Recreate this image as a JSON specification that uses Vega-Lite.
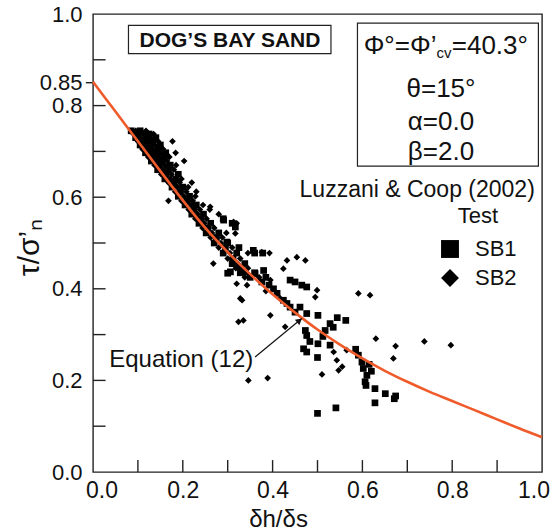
{
  "$schema": "https://vega.github.io/schema/vega-lite/v6.json",
  "width": 449,
  "height": 458,
  "autosize": {"type": "none"},
  "padding": {"left": 93, "top": 14, "right": 16, "bottom": 58},
  "background": "white",
  "config": {"view": {"stroke": "#222", "strokeWidth": 1.4}, "font": "Liberation Sans"},
  "datasets": {
    "pts": [
      {"x":0.085,"y":0.745,"t":"SB1"},{"x":0.095,"y":0.745,"t":"SB2"},{"x":0.105,"y":0.745,"t":"SB1"},{"x":0.118,"y":0.745,"t":"SB2"},
      {"x":0.09,"y":0.738,"t":"SB2"},{"x":0.10,"y":0.738,"t":"SB1"},{"x":0.112,"y":0.738,"t":"SB2"},{"x":0.125,"y":0.738,"t":"SB1"},{"x":0.135,"y":0.738,"t":"SB2"},
      {"x":0.095,"y":0.730,"t":"SB1"},{"x":0.106,"y":0.730,"t":"SB2"},{"x":0.118,"y":0.730,"t":"SB1"},{"x":0.128,"y":0.730,"t":"SB2"},{"x":0.14,"y":0.730,"t":"SB1"},
      {"x":0.10,"y":0.722,"t":"SB2"},{"x":0.112,"y":0.722,"t":"SB1"},{"x":0.122,"y":0.722,"t":"SB2"},{"x":0.133,"y":0.722,"t":"SB1"},{"x":0.145,"y":0.722,"t":"SB2"},{"x":0.177,"y":0.722,"t":"SB2"},
      {"x":0.105,"y":0.714,"t":"SB1"},{"x":0.116,"y":0.714,"t":"SB2"},{"x":0.127,"y":0.714,"t":"SB1"},{"x":0.138,"y":0.714,"t":"SB2"},{"x":0.15,"y":0.714,"t":"SB1"},
      {"x":0.11,"y":0.705,"t":"SB2"},{"x":0.122,"y":0.705,"t":"SB1"},{"x":0.133,"y":0.705,"t":"SB2"},{"x":0.145,"y":0.705,"t":"SB1"},{"x":0.156,"y":0.705,"t":"SB2"},
      {"x":0.117,"y":0.697,"t":"SB1"},{"x":0.128,"y":0.697,"t":"SB2"},{"x":0.14,"y":0.697,"t":"SB1"},{"x":0.15,"y":0.697,"t":"SB2"},{"x":0.162,"y":0.697,"t":"SB1"},{"x":0.184,"y":0.697,"t":"SB2"},
      {"x":0.123,"y":0.688,"t":"SB2"},{"x":0.134,"y":0.688,"t":"SB1"},{"x":0.146,"y":0.688,"t":"SB2"},{"x":0.158,"y":0.688,"t":"SB1"},{"x":0.17,"y":0.688,"t":"SB2"},
      {"x":0.13,"y":0.679,"t":"SB1"},{"x":0.142,"y":0.679,"t":"SB2"},{"x":0.153,"y":0.679,"t":"SB1"},{"x":0.165,"y":0.679,"t":"SB2"},{"x":0.203,"y":0.679,"t":"SB2"},
      {"x":0.137,"y":0.670,"t":"SB2"},{"x":0.148,"y":0.670,"t":"SB1"},{"x":0.16,"y":0.670,"t":"SB2"},{"x":0.172,"y":0.670,"t":"SB1"},{"x":0.185,"y":0.670,"t":"SB2"},
      {"x":0.144,"y":0.660,"t":"SB1"},{"x":0.156,"y":0.660,"t":"SB2"},{"x":0.168,"y":0.660,"t":"SB1"},{"x":0.18,"y":0.660,"t":"SB2"},
      {"x":0.152,"y":0.650,"t":"SB2"},{"x":0.163,"y":0.650,"t":"SB1"},{"x":0.175,"y":0.650,"t":"SB2"},{"x":0.19,"y":0.650,"t":"SB1"},
      {"x":0.16,"y":0.640,"t":"SB1"},{"x":0.172,"y":0.640,"t":"SB2"},{"x":0.184,"y":0.640,"t":"SB1"},{"x":0.197,"y":0.640,"t":"SB2"},
      {"x":0.168,"y":0.632,"t":"SB2"},{"x":0.18,"y":0.632,"t":"SB1"},{"x":0.193,"y":0.632,"t":"SB2"},{"x":0.22,"y":0.632,"t":"SB2"},
      {"x":0.176,"y":0.622,"t":"SB1"},{"x":0.188,"y":0.622,"t":"SB2"},{"x":0.2,"y":0.622,"t":"SB1"},{"x":0.212,"y":0.622,"t":"SB2"},
      {"x":0.183,"y":0.612,"t":"SB2"},{"x":0.195,"y":0.612,"t":"SB1"},{"x":0.208,"y":0.612,"t":"SB2"},{"x":0.23,"y":0.612,"t":"SB2"},
      {"x":0.19,"y":0.602,"t":"SB1"},{"x":0.203,"y":0.602,"t":"SB2"},{"x":0.215,"y":0.602,"t":"SB1"},{"x":0.228,"y":0.602,"t":"SB2"},
      {"x":0.197,"y":0.592,"t":"SB2"},{"x":0.21,"y":0.592,"t":"SB1"},{"x":0.222,"y":0.592,"t":"SB2"},{"x":0.168,"y":0.592,"t":"SB2"},
      {"x":0.205,"y":0.583,"t":"SB1"},{"x":0.218,"y":0.583,"t":"SB2"},{"x":0.23,"y":0.583,"t":"SB1"},{"x":0.245,"y":0.583,"t":"SB2"},
      {"x":0.213,"y":0.573,"t":"SB2"},{"x":0.225,"y":0.573,"t":"SB1"},{"x":0.238,"y":0.573,"t":"SB2"},{"x":0.26,"y":0.573,"t":"SB2"},
      {"x":0.22,"y":0.563,"t":"SB1"},{"x":0.233,"y":0.563,"t":"SB2"},{"x":0.246,"y":0.563,"t":"SB1"},{"x":0.28,"y":0.563,"t":"SB2"},
      {"x":0.228,"y":0.553,"t":"SB2"},{"x":0.24,"y":0.553,"t":"SB1"},{"x":0.253,"y":0.553,"t":"SB2"},{"x":0.29,"y":0.553,"t":"SB1"},
      {"x":0.236,"y":0.543,"t":"SB1"},{"x":0.248,"y":0.543,"t":"SB2"},{"x":0.262,"y":0.543,"t":"SB1"},{"x":0.31,"y":0.543,"t":"SB1"},{"x":0.32,"y":0.543,"t":"SB2"},
      {"x":0.244,"y":0.533,"t":"SB2"},{"x":0.256,"y":0.533,"t":"SB1"},{"x":0.27,"y":0.533,"t":"SB2"},
      {"x":0.252,"y":0.522,"t":"SB1"},{"x":0.265,"y":0.522,"t":"SB2"},{"x":0.28,"y":0.522,"t":"SB1"},{"x":0.297,"y":0.522,"t":"SB2"},
      {"x":0.262,"y":0.512,"t":"SB2"},{"x":0.275,"y":0.512,"t":"SB1"},{"x":0.288,"y":0.512,"t":"SB2"},
      {"x":0.27,"y":0.500,"t":"SB1"},{"x":0.285,"y":0.500,"t":"SB2"},{"x":0.3,"y":0.500,"t":"SB1"},
      {"x":0.28,"y":0.490,"t":"SB2"},{"x":0.295,"y":0.490,"t":"SB1"},{"x":0.31,"y":0.490,"t":"SB2"},{"x":0.325,"y":0.490,"t":"SB1"},
      {"x":0.29,"y":0.478,"t":"SB1"},{"x":0.305,"y":0.478,"t":"SB2"},{"x":0.32,"y":0.478,"t":"SB1"},{"x":0.345,"y":0.478,"t":"SB2"},{"x":0.36,"y":0.478,"t":"SB1"},{"x":0.378,"y":0.478,"t":"SB1"},{"x":0.393,"y":0.478,"t":"SB2"},
      {"x":0.3,"y":0.466,"t":"SB2"},{"x":0.312,"y":0.466,"t":"SB1"},{"x":0.328,"y":0.466,"t":"SB2"},
      {"x":0.31,"y":0.455,"t":"SB1"},{"x":0.322,"y":0.455,"t":"SB2"},{"x":0.338,"y":0.455,"t":"SB1"},{"x":0.268,"y":0.455,"t":"SB2"},
      {"x":0.318,"y":0.445,"t":"SB2"},{"x":0.33,"y":0.445,"t":"SB1"},{"x":0.345,"y":0.445,"t":"SB2"},
      {"x":0.328,"y":0.435,"t":"SB1"},{"x":0.34,"y":0.435,"t":"SB2"},{"x":0.36,"y":0.435,"t":"SB1"},
      {"x":0.338,"y":0.425,"t":"SB2"},{"x":0.35,"y":0.425,"t":"SB1"},{"x":0.37,"y":0.425,"t":"SB2"},{"x":0.385,"y":0.425,"t":"SB1"},
      {"x":0.261,"y":0.579,"t":"SB2"},{"x":0.291,"y":0.550,"t":"SB1"},{"x":0.313,"y":0.546,"t":"SB2"},{"x":0.317,"y":0.535,"t":"SB1"},
      {"x":0.298,"y":0.502,"t":"SB1"},{"x":0.317,"y":0.521,"t":"SB2"},{"x":0.357,"y":0.484,"t":"SB1"},{"x":0.376,"y":0.480,"t":"SB2"},
      {"x":0.306,"y":0.437,"t":"SB1"},{"x":0.324,"y":0.448,"t":"SB2"},{"x":0.335,"y":0.437,"t":"SB1"},{"x":0.320,"y":0.411,"t":"SB2"},
      {"x":0.328,"y":0.379,"t":"SB2"},{"x":0.454,"y":0.469,"t":"SB2"},{"x":0.432,"y":0.462,"t":"SB2"},{"x":0.473,"y":0.462,"t":"SB2"},
      {"x":0.424,"y":0.444,"t":"SB2"},{"x":0.380,"y":0.440,"t":"SB1"},{"x":0.361,"y":0.433,"t":"SB1"},{"x":0.376,"y":0.415,"t":"SB1"},
      {"x":0.395,"y":0.419,"t":"SB2"},{"x":0.402,"y":0.400,"t":"SB1"},{"x":0.410,"y":0.390,"t":"SB1"},{"x":0.417,"y":0.379,"t":"SB2"},
      {"x":0.424,"y":0.375,"t":"SB1"},{"x":0.432,"y":0.368,"t":"SB1"},{"x":0.439,"y":0.360,"t":"SB1"},{"x":0.439,"y":0.419,"t":"SB1"},
      {"x":0.450,"y":0.415,"t":"SB1"},{"x":0.465,"y":0.408,"t":"SB1"},{"x":0.476,"y":0.404,"t":"SB1"},{"x":0.499,"y":0.397,"t":"SB2"},
      {"x":0.495,"y":0.382,"t":"SB2"},{"x":0.395,"y":0.342,"t":"SB2"},{"x":0.476,"y":0.346,"t":"SB1"},{"x":0.461,"y":0.360,"t":"SB1"},
      {"x":0.450,"y":0.349,"t":"SB1"},{"x":0.385,"y":0.395,"t":"SB2"},{"x":0.392,"y":0.408,"t":"SB1"},{"x":0.3,"y":0.434,"t":"SB1"},
      {"x":0.343,"y":0.408,"t":"SB2"},{"x":0.332,"y":0.375,"t":"SB2"},{"x":0.324,"y":0.328,"t":"SB2"},{"x":0.335,"y":0.331,"t":"SB2"},
      {"x":0.428,"y":0.317,"t":"SB2"},{"x":0.346,"y":0.200,"t":"SB2"},{"x":0.389,"y":0.205,"t":"SB2"},
      {"x":0.591,"y":0.390,"t":"SB2"},{"x":0.617,"y":0.386,"t":"SB2"},{"x":0.630,"y":0.291,"t":"SB2"},{"x":0.674,"y":0.275,"t":"SB2"},
      {"x":0.669,"y":0.248,"t":"SB2"},{"x":0.738,"y":0.285,"t":"SB2"},{"x":0.510,"y":0.213,"t":"SB2"},{"x":0.797,"y":0.277,"t":"SB2"},
      {"x":0.501,"y":0.342,"t":"SB1"},{"x":0.544,"y":0.337,"t":"SB1"},{"x":0.563,"y":0.331,"t":"SB1"},{"x":0.528,"y":0.324,"t":"SB1"},
      {"x":0.517,"y":0.309,"t":"SB1"},{"x":0.473,"y":0.309,"t":"SB1"},{"x":0.476,"y":0.298,"t":"SB1"},{"x":0.469,"y":0.269,"t":"SB1"},
      {"x":0.476,"y":0.262,"t":"SB1"},{"x":0.501,"y":0.280,"t":"SB1"},{"x":0.500,"y":0.250,"t":"SB1"},{"x":0.528,"y":0.277,"t":"SB1"},
      {"x":0.536,"y":0.262,"t":"SB2"},{"x":0.543,"y":0.244,"t":"SB2"},{"x":0.547,"y":0.222,"t":"SB2"},{"x":0.565,"y":0.266,"t":"SB2"},
      {"x":0.591,"y":0.255,"t":"SB1"},{"x":0.599,"y":0.240,"t":"SB1"},{"x":0.602,"y":0.226,"t":"SB1"},{"x":0.610,"y":0.211,"t":"SB1"},
      {"x":0.606,"y":0.197,"t":"SB1"},{"x":0.608,"y":0.189,"t":"SB1"},{"x":0.628,"y":0.182,"t":"SB1"},{"x":0.628,"y":0.151,"t":"SB1"},
      {"x":0.651,"y":0.171,"t":"SB1"},{"x":0.671,"y":0.160,"t":"SB1"},{"x":0.500,"y":0.128,"t":"SB1"},{"x":0.541,"y":0.140,"t":"SB1"},
      {"x":0.615,"y":0.235,"t":"SB1"},{"x":0.620,"y":0.220,"t":"SB1"},{"x":0.674,"y":0.166,"t":"SB1"},{"x":0.585,"y":0.268,"t":"SB1"},
      {"x":0.555,"y":0.230,"t":"SB2"},{"x":0.483,"y":0.285,"t":"SB1"},{"x":0.512,"y":0.296,"t":"SB1"},{"x":0.535,"y":0.316,"t":"SB1"}
    ],
    "curve": [
      {"x":0,"y":0.852},{"x":0.05,"y":0.787},{"x":0.1,"y":0.722},{"x":0.15,"y":0.657},{"x":0.2,"y":0.593},
      {"x":0.25,"y":0.533},{"x":0.3,"y":0.48},{"x":0.35,"y":0.432},{"x":0.4,"y":0.388},{"x":0.45,"y":0.348},
      {"x":0.5,"y":0.311},{"x":0.55,"y":0.278},{"x":0.6,"y":0.248},{"x":0.65,"y":0.221},{"x":0.7,"y":0.197},
      {"x":0.75,"y":0.175},{"x":0.8,"y":0.155},{"x":0.85,"y":0.135},{"x":0.9,"y":0.115},{"x":0.95,"y":0.095},{"x":1.0,"y":0.076}
    ],
    "xticks": [
      {"x":0.1,"y":0,"y2":0.026},{"x":0.2,"y":0,"y2":0.026},{"x":0.3,"y":0,"y2":0.026},{"x":0.4,"y":0,"y2":0.026},{"x":0.5,"y":0,"y2":0.026},
      {"x":0.6,"y":0,"y2":0.026},{"x":0.7,"y":0,"y2":0.026},{"x":0.8,"y":0,"y2":0.026},{"x":0.9,"y":0,"y2":0.026}
    ],
    "yticks": [
      {"y":0.1,"x":0,"x2":0.028},{"y":0.2,"x":0,"x2":0.028},{"y":0.3,"x":0,"x2":0.028},{"y":0.4,"x":0,"x2":0.028},{"y":0.5,"x":0,"x2":0.028},
      {"y":0.6,"x":0,"x2":0.028},{"y":0.7,"x":0,"x2":0.028},{"y":0.8,"x":0,"x2":0.028},{"y":0.9,"x":0,"x2":0.028}
    ],
    "outtick": [{"x":-0.016,"x2":0,"y":0.85}],
    "boxes": [
      {"x":0.079,"x2":0.530,"y":0.975,"y2":0.9135},
      {"x":0.589,"x2":0.992,"y":0.980,"y2":0.668}
    ],
    "heading": [{"x":0.305,"y":0.928,"text":"DOG’S BAY SAND"}],
    "params": [
      {"x":0.775,"y":0.819,"text":"θ=15°"},
      {"x":0.775,"y":0.746,"text":"α=0.0"},
      {"x":0.775,"y":0.681,"text":"β=2.0"}
    ],
    "phiA": [{"x":0.765,"y":0.9135,"text":"Φ°=Φ’"}],
    "phiB": [{"x":0.765,"y":0.905,"text":"cv"}],
    "phiC": [{"x":0.799,"y":0.9135,"text":"=40.3°"}],
    "source": [{"x":0.984,"y":0.600,"text":"Luzzani & Coop (2002)"}],
    "eqn": [{"x":0.357,"y":0.229,"text":"Equation (12)"}],
    "arrow": [{"x":0.361,"y":0.251,"x2":0.465,"y2":0.335}],
    "arrowhead": [{"x":0.4599,"y":0.3308}]
  },
  "encoding": {
    "x": {
      "field": "x", "type": "quantitative",
      "scale": {"domain": [0, 1], "nice": false, "zero": false},
      "axis": {
        "title": "δh/δs", "titleFontSize": 24, "titleFontWeight": "normal", "titleColor": "#111",
        "titleX": 185, "titleY": 54, "titleAlign": "center", "titleBaseline": "alphabetic",
        "values": [0, 0.2, 0.4, 0.6, 0.8, 1],
        "ticks": false, "tickSize": 0, "domain": false, "grid": false,
        "format": ".1f",
        "labelFontSize": 23, "labelColor": "#111", "labelPadding": 7,
        "labelFlush": true, "labelFlushOffset": 7.5, "labelOverlap": false, "labelBound": false
      }
    },
    "y": {
      "field": "y", "type": "quantitative",
      "scale": {"domain": [0, 1], "nice": false, "zero": false},
      "axis": {
        "title": "τ/σ’ₙ", "titleFontSize": 30, "titleFontWeight": "normal", "titleColor": "#111",
        "titleX": -64, "titleY": 233, "titleAlign": "center", "titleBaseline": "middle", "titleAngle": -90,
        "values": [0, 0.2, 0.4, 0.6, 0.8, 0.85, 1],
        "ticks": false, "tickSize": 0, "domain": false, "grid": false,
        "labelExpr": "datum.value == 0.85 ? '0.85' : format(datum.value, '.1f')",
        "labelFontSize": 22, "labelColor": "#111", "labelPadding": 11,
        "labelFlush": false, "labelOverlap": false, "labelBound": false
      }
    }
  },
  "layer": [
    {
      "data": {"name": "boxes"},
      "mark": {"type": "rect", "fill": "white", "stroke": "#222", "strokeWidth": 1.2},
      "encoding": {"x2": {"field": "x2"}, "y2": {"field": "y2"}}
    },
    {
      "data": {"name": "xticks"},
      "mark": {"type": "rule", "color": "#222", "strokeWidth": 1.4},
      "encoding": {"y2": {"field": "y2"}}
    },
    {
      "data": {"name": "yticks"},
      "mark": {"type": "rule", "color": "#222", "strokeWidth": 1.4},
      "encoding": {"x2": {"field": "x2"}}
    },
    {
      "data": {"name": "outtick"},
      "mark": {"type": "rule", "color": "#222", "strokeWidth": 1.4},
      "encoding": {"x2": {"field": "x2"}}
    },
    {
      "data": {"name": "pts"},
      "mark": {"type": "point", "filled": true, "color": "black", "opacity": 1, "size": 45},
      "encoding": {
        "shape": {
          "field": "t", "type": "nominal",
          "scale": {"domain": ["SB1", "SB2"], "range": ["square", "diamond"]},
          "legend": {
            "title": "Test", "orient": "none", "legendX": 346, "legendY": 192, "padding": 0,
            "titleFontSize": 22, "titleFontWeight": "normal", "titleColor": "#111", "titleAnchor": "middle", "titlePadding": 10,
            "labelFontSize": 22, "labelColor": "#111", "labelOffset": 14, "rowPadding": 7,
            "symbolSize": 320, "symbolFillColor": "black", "symbolStrokeColor": "black", "symbolStrokeWidth": 0
          }
        }
      }
    },
    {
      "data": {"name": "curve"},
      "mark": {"type": "line", "color": "#ef5b2b", "strokeWidth": 2.6, "interpolate": "monotone"},
      "encoding": {}
    },
    {
      "data": {"name": "heading"},
      "mark": {"type": "text", "fontSize": 21, "fontWeight": "bold", "align": "center", "baseline": "alphabetic", "color": "#111"},
      "encoding": {"text": {"field": "text"}}
    },
    {
      "data": {"name": "params"},
      "mark": {"type": "text", "fontSize": 26, "align": "center", "baseline": "alphabetic", "color": "#111"},
      "encoding": {"text": {"field": "text"}}
    },
    {
      "data": {"name": "phiA"},
      "mark": {"type": "text", "fontSize": 26, "align": "right", "baseline": "alphabetic", "color": "#111"},
      "encoding": {"text": {"field": "text"}}
    },
    {
      "data": {"name": "phiB"},
      "mark": {"type": "text", "fontSize": 15, "align": "left", "baseline": "alphabetic", "color": "#111"},
      "encoding": {"text": {"field": "text"}}
    },
    {
      "data": {"name": "phiC"},
      "mark": {"type": "text", "fontSize": 26, "align": "left", "baseline": "alphabetic", "color": "#111"},
      "encoding": {"text": {"field": "text"}}
    },
    {
      "data": {"name": "source"},
      "mark": {"type": "text", "fontSize": 23, "align": "right", "baseline": "alphabetic", "color": "#111"},
      "encoding": {"text": {"field": "text"}}
    },
    {
      "data": {"name": "eqn"},
      "mark": {"type": "text", "fontSize": 24, "align": "right", "baseline": "alphabetic", "color": "#111"},
      "encoding": {"text": {"field": "text"}}
    },
    {
      "data": {"name": "arrow"},
      "mark": {"type": "rule", "color": "#111", "strokeWidth": 1.2},
      "encoding": {"x2": {"field": "x2"}, "y2": {"field": "y2"}}
    },
    {
      "data": {"name": "arrowhead"},
      "mark": {"type": "point", "shape": "triangle-up", "filled": true, "color": "#111", "size": 50, "angle": 50.6, "opacity": 1},
      "encoding": {}
    }
  ]
}
